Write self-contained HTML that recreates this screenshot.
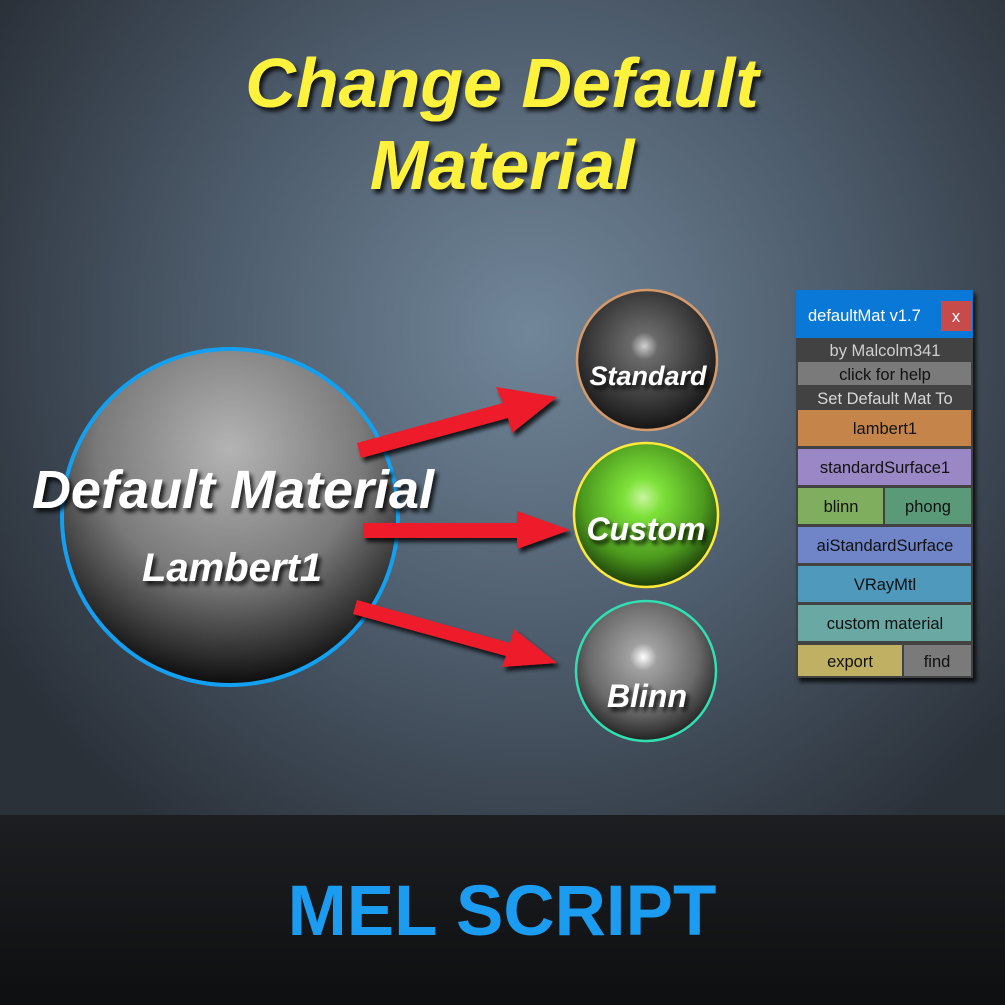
<!DOCTYPE html>
<html><head><meta charset="utf-8"><style>
html,body{margin:0;padding:0;width:1005px;height:1005px;overflow:hidden}
svg{display:block}
.t{font-family:"Liberation Sans",sans-serif;font-weight:bold;font-style:italic}
.p{font-family:"Liberation Sans",sans-serif;font-size:16.5px}
</style></head><body>
<svg width="1005" height="1005" viewBox="0 0 1005 1005" xmlns="http://www.w3.org/2000/svg">
<defs>
<radialGradient id="bg" cx="530" cy="330" r="620" gradientUnits="userSpaceOnUse">
<stop offset="0" stop-color="#718699"/><stop offset="0.5" stop-color="#4e5d6d"/><stop offset="1" stop-color="#2b3139"/></radialGradient>
<linearGradient id="bot" x1="0" y1="0" x2="0" y2="1"><stop offset="0" stop-color="#1c1e21"/><stop offset="1" stop-color="#0e0f11"/></linearGradient>
<radialGradient id="big" cx="0.5" cy="0.3" r="0.72"><stop offset="0" stop-color="#b4b4b4"/><stop offset="0.55" stop-color="#7a7a7a"/><stop offset="0.85" stop-color="#2e2e2e"/><stop offset="1" stop-color="#050505"/></radialGradient>
<radialGradient id="std" cx="0.48" cy="0.4" r="0.65"><stop offset="0" stop-color="#d0d0d0"/><stop offset="0.15" stop-color="#6a6a6a"/><stop offset="0.6" stop-color="#3a3a3a"/><stop offset="1" stop-color="#0c0c0c"/></radialGradient>
<radialGradient id="grn" cx="0.48" cy="0.38" r="0.65"><stop offset="0" stop-color="#c8f5a0"/><stop offset="0.2" stop-color="#7ee23a"/><stop offset="0.65" stop-color="#4c9a1e"/><stop offset="1" stop-color="#152c06"/></radialGradient>
<radialGradient id="bln" cx="0.48" cy="0.4" r="0.65"><stop offset="0" stop-color="#ffffff"/><stop offset="0.15" stop-color="#a0a0a0"/><stop offset="0.6" stop-color="#6a6a6a"/><stop offset="1" stop-color="#111"/></radialGradient>
<filter id="sh" x="-20%" y="-20%" width="140%" height="140%"><feDropShadow dx="3" dy="4" stdDeviation="2" flood-color="#000" flood-opacity="0.8"/></filter>
</defs>
<rect width="1005" height="815" fill="url(#bg)"/>
<rect y="815" width="1005" height="190" fill="url(#bot)"/>
<text x="502" y="935" text-anchor="middle" font-family="Liberation Sans,sans-serif" font-weight="bold" font-size="71" fill="#1c9cf0">MEL SCRIPT</text>
<g class="t" fill="#fff23e" font-size="70" text-anchor="middle" filter="url(#sh)">
<text x="502" y="107">Change Default</text>
<text x="502" y="189">Material</text>
</g>
<circle cx="230" cy="517" r="168" fill="url(#big)" stroke="#14a0f0" stroke-width="4"/>
<circle cx="647" cy="360" r="70" fill="url(#std)" stroke="#d69a6a" stroke-width="2.5"/>
<circle cx="646" cy="515" r="72" fill="url(#grn)" stroke="#ffe93a" stroke-width="2.5"/>
<circle cx="646" cy="671" r="70" fill="url(#bln)" stroke="#30e0b0" stroke-width="2.5"/>
<g fill="#ee1c2a" filter="url(#sh)">
<polygon points="357,443 503,403 496,387 557,397 512,433 508,418 361,458"/>
<polygon points="363,523 517,523 517,511 570,530 517,549 517,538 363,538"/>
<polygon points="357,600 510,643 514,629 557,663 502,667 506,656 353,614"/>
</g>
<g class="t" fill="#fff" text-anchor="middle" filter="url(#sh)">
<text x="233" y="508" font-size="54">Default Material</text>
<text x="232" y="581" font-size="40">Lambert1</text>
<text x="648" y="385" font-size="27">Standard</text>
<text x="646" y="540" font-size="32">Custom</text>
<text x="647" y="707" font-size="32">Blinn</text>
</g>
<g filter="url(#sh)">
<rect x="796" y="290" width="177" height="388" fill="#424242"/>
</g>
<rect x="796" y="290" width="177" height="48" fill="#0a78d7"/>
<text x="808" y="321" class="p" font-size="18" fill="#fff">defaultMat v1.7</text>
<rect x="941" y="301" width="31" height="30" fill="#c84b4b"/>
<text x="956" y="322" class="p" fill="#fff" text-anchor="middle">x</text>
<g class="p" text-anchor="middle" fill="#111">
<text x="885" y="356" fill="#cfcfcf">by Malcolm341</text>
<rect x="798" y="362" width="173" height="23" fill="#7a7a7a"/>
<text x="885" y="380">click for help</text>
<text x="885" y="404" fill="#d8d8d8">Set Default Mat To</text>
<rect x="798" y="410" width="173" height="36" fill="#c58449"/><text x="885" y="434">lambert1</text>
<rect x="798" y="449" width="173" height="36" fill="#9a87c6"/><text x="885" y="473">standardSurface1</text>
<rect x="798" y="488" width="85" height="36" fill="#7fae5f"/><text x="841" y="512">blinn</text>
<rect x="885" y="488" width="86" height="36" fill="#5a9a78"/><text x="928" y="512">phong</text>
<rect x="798" y="527" width="173" height="36" fill="#6f85c8"/><text x="885" y="551">aiStandardSurface</text>
<rect x="798" y="566" width="173" height="36" fill="#4f99bd"/><text x="885" y="590">VRayMtl</text>
<rect x="798" y="605" width="173" height="36" fill="#6aa8a3"/><text x="885" y="629">custom material</text>
<rect x="798" y="645" width="104" height="31" fill="#bfb064"/><text x="850" y="667">export</text>
<rect x="904" y="645" width="67" height="31" fill="#7a7a7a"/><text x="937" y="667">find</text>
</g>
</svg>
</body></html>
